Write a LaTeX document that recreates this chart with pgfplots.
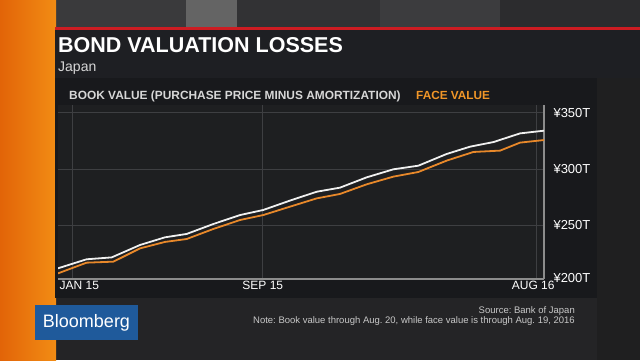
\documentclass[border=0pt]{standalone}
\usepackage{fontspec}
\setmainfont{Liberation Sans}
\usepackage{pgfplots}
\pgfplotsset{compat=1.18}
\frenchspacing
\definecolor{bgc}{RGB}{36,36,38}
\definecolor{orA}{RGB}{226,100,8}
\definecolor{orB}{RGB}{242,140,20}
\definecolor{redl}{RGB}{205,28,34}
\definecolor{titlebg}{RGB}{30,31,35}
\definecolor{panelbg}{RGB}{24,25,28}
\definecolor{plotbg}{RGB}{30,31,33}
\definecolor{gridc}{RGB}{62,63,66}
\definecolor{axc}{RGB}{140,140,140}
\definecolor{lgray}{RGB}{215,215,215}
\definecolor{orline}{RGB}{232,136,42}
\definecolor{orlab}{RGB}{240,150,40}
\definecolor{bbblue}{RGB}{31,90,155}
\definecolor{srcc}{RGB}{200,200,200}
\pgfplotstableread{
x y
-0.59 212.0
0.58 220.0
1.61 221.7
2.77 232.7
3.79 239.5
4.68 242.5
5.77 251.3
6.87 259.3
7.82 263.8
8.91 272.1
10.01 280.0
10.96 283.6
12.06 292.8
13.15 299.9
14.17 303.1
15.33 313.5
16.29 320.0
17.25 324.1
18.34 331.8
19.32 334.2
}\bookvalue
\pgfplotstableread{
x y
-0.59 207.5
0.58 217.0
1.68 217.9
2.77 229.7
3.79 235.4
4.68 238.0
5.77 246.9
6.87 254.9
7.82 259.3
8.91 266.7
10.01 274.1
10.96 278.0
12.06 286.6
13.15 293.4
14.17 297.5
15.33 307.6
16.43 315.3
17.52 316.5
18.34 323.6
19.32 325.9
}\facevalue
\begin{document}
\begin{tikzpicture}[x=1pt,y=1pt]
\useasboundingbox (0,0) rectangle (640,360);
% background
\fill[bgc] (0,0) rectangle (640,360);
\fill[color={rgb,255:red,31;green,31;blue,32}] (597,0) rectangle (640,333);
% top band
\fill[color={rgb,255:red,58;green,58;blue,60}] (55,333) rectangle (186,360);
\fill[color={rgb,255:red,100;green,100;blue,100}] (186,333) rectangle (237,360);
\fill[color={rgb,255:red,50;green,50;blue,52}] (237,333) rectangle (380,360);
\fill[color={rgb,255:red,60;green,60;blue,62}] (380,333) rectangle (500,360);
\fill[color={rgb,255:red,44;green,44;blue,46}] (500,333) rectangle (640,360);
% orange stripe
\shade[left color=orA, right color=orB] (0,0) rectangle (56,360);
% red line and title panel
\fill[titlebg] (55,282) rectangle (640,331);
\fill[redl] (55,330) rectangle (640,333);
% chart panel
\fill[panelbg] (55,62) rectangle (597,282);
% titles
\node[anchor=base west, inner sep=0, text=white, font=\fontsize{21.5}{24}\selectfont\bfseries] at (58,308) {BOND VALUATION LOSSES};
\node[anchor=base west, inner sep=0, text=lgray, font=\fontsize{14}{16}\selectfont] at (58,289) {Japan};
\node[anchor=base west, inner sep=0, text=lgray, font=\fontsize{11.9}{13}\selectfont\bfseries] at (69,261) {BOOK VALUE (PURCHASE PRICE MINUS AMORTIZATION)};
\node[anchor=base west, inner sep=0, text=orlab, font=\fontsize{11.8}{13}\selectfont\bfseries] at (416,261) {FACE VALUE};
\begin{axis}[
  at={(58pt,81pt)}, anchor=south west, scale only axis,
  width=486pt, height=174pt,
  xmin=-0.59, xmax=19.32, ymin=202.5, ymax=357,
  axis background/.style={fill=plotbg},
  axis x line*=bottom, axis y line*=right,
  axis line style={axc, line width=1.2pt},
  grid=major, major grid style={gridc, line width=0.8pt},
  major tick length=0pt,
  xtick={0,7.8,19},
  xticklabels={\hspace*{14pt}JAN 15,SEP 15,AUG 16\hspace*{6pt}},
  ytick={202.5,250,300,350},
  yticklabels={\raisebox{3pt}{¥200T},¥250T,¥300T,¥350T},
  xticklabel style={text=white, font=\fontsize{12}{14}\selectfont, yshift=1pt},
  yticklabel style={text=white, font=\fontsize{13}{15}\selectfont, anchor=west, xshift=6pt},
]
\addplot[orline, line width=1.8pt] table[x=x,y=y] {\facevalue};
\addplot[white!94!black, line width=1.8pt] table[x=x,y=y] {\bookvalue};
\end{axis}
% logo
\fill[bbblue] (35,20) rectangle (138,55);
\node[anchor=center, inner sep=0, text=white, font=\fontsize{18}{20}\selectfont] at (86.5,37.5) {Bloomberg};
% source
\node[anchor=base east, inner sep=0, text=srcc, font=\fontsize{9.5}{11}\selectfont] at (575,47) {Source: Bank of Japan};
\node[anchor=base east, inner sep=0, text=srcc, font=\fontsize{9.5}{11}\selectfont] at (575,37) {Note: Book value through Aug. 20, while face value is through Aug. 19, 2016};
\end{tikzpicture}
\end{document}
